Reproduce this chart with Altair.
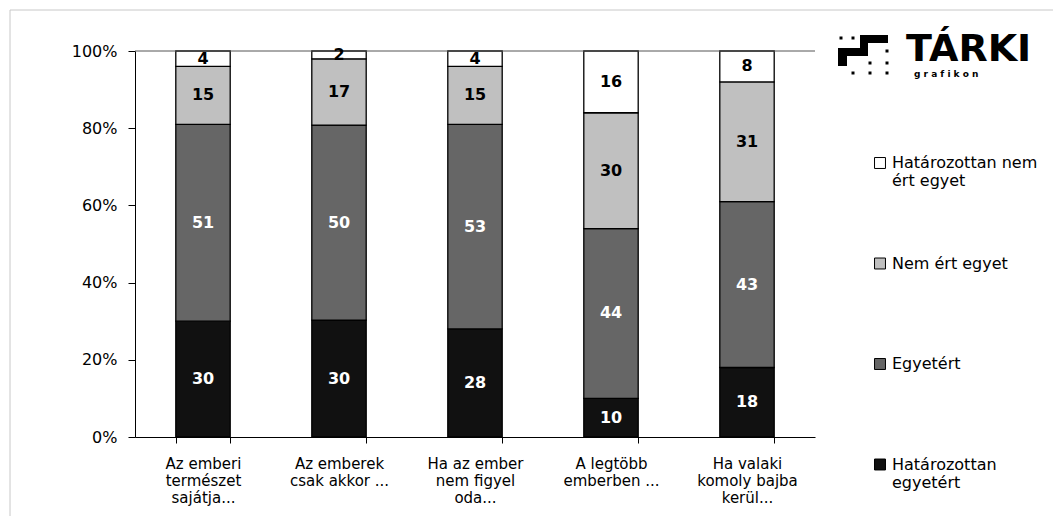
import altair as alt
import pandas as pd

# ---------------- data ----------------
categories = [
    "Az emberi|természet|sajátja...",
    "Az emberek|csak akkor ...",
    "Ha az ember|nem figyel|oda...",
    "A legtöbb|emberben ...",
    "Ha valaki|komoly bajba|kerül...",
]
series = ["Határozottan egyetért", "Egyetért", "Nem ért egyet", "Határozottan nem ért egyet"]
hat_egyetert = [30, 30, 28, 10, 18]
egyetert = [51, 50, 53, 44, 43]
nem_ert_egyet = [15, 17, 15, 30, 31]
hat_nem_ert_egyet = [4, 2, 4, 16, 8]
series_colors = ["#111111", "#666666", "#c0c0c0", "#ffffff"]
y_ticks = [0, 0.2, 0.4, 0.6, 0.8, 1.0]

values = [hat_egyetert, egyetert, nem_ert_egyet, hat_nem_ert_egyet]
rows = []
for si, (s, vals) in enumerate(zip(series, values)):
    for ci, (c, v) in enumerate(zip(categories, vals)):
        rows.append({"cat": c, "series": s, "ord": si, "value": v})
df = pd.DataFrame(rows)

FONT = "DejaVu Sans"

legend_domain = series[::-1]
legend_range = series_colors[::-1]

base = alt.Chart(df).transform_stack(
    stack="value",
    groupby=["cat"],
    as_=["y0", "y1"],
    offset="normalize",
    sort=[alt.SortField("ord", order="ascending")],
).transform_calculate(mid="(datum.y0 + datum.y1) / 2")

x_enc = alt.X(
    "cat:N",
    sort=categories,
    title=None,
    scale=alt.Scale(paddingInner=0.6, paddingOuter=0.3),
    axis=alt.Axis(
        labelExpr="split(datum.label, '|')",
        labelAngle=0,
        labelFont=FONT,
        labelFontSize=15,
        labelLineHeight=17,
        labelColor="#000000",
        labelPadding=13,
        tickBand="extent",
        tickSize=6,
        tickColor="#000000",
        domainColor="#000000",
        labelBaseline="top",
    ),
)

bars = base.mark_bar(stroke="#000000", strokeWidth=1.3).encode(
    x=x_enc,
    y=alt.Y(
        "y0:Q",
        title=None,
        scale=alt.Scale(domain=[0, 1], nice=False),
        axis=alt.Axis(
            values=y_ticks,
            format=".0%",
            grid=False,
            labelFont=FONT,
            labelFontSize=16,
            labelColor="#000000",
            labelPadding=11,
            tickSize=7,
            tickColor="#000000",
            domainColor="#000000",
        ),
    ),
    y2="y1:Q",
    color=alt.Color(
        "series:N",
        scale=alt.Scale(domain=legend_domain, range=legend_range),
        legend=alt.Legend(
            title=None,
            orient="none",
            legendX=737,
            legendY=104,
            symbolType="square",
            symbolSize=120,
            symbolStrokeColor="#000000",
            symbolStrokeWidth=1,
            labelFont=FONT,
            labelFontSize=16,
            labelBaseline="middle",
            labelColor="#000000",
            labelOffset=4,
            rowPadding=66.5,
            padding=0,
            labelLimit=300,
            labelExpr=(
                "datum.label == 'Határozottan nem ért egyet' ? ['Határozottan nem', 'ért egyet'] : "
                "datum.label == 'Határozottan egyetért' ? ['Határozottan', 'egyetért'] : "
                "[datum.label, ' ']"
            ),
        ),
    ),
    order=alt.Order("ord:Q"),
)

text_white = base.transform_filter("datum.ord <= 1").mark_text(
    font=FONT, fontSize=16, fontWeight="bold", color="#ffffff", baseline="middle"
).encode(x=alt.X("cat:N", sort=categories), y="mid:Q", text="value:Q")

text_black = base.transform_filter("datum.ord >= 2").mark_text(
    font=FONT, fontSize=16, fontWeight="bold", color="#000000", baseline="middle"
).encode(x=alt.X("cat:N", sort=categories), y="mid:Q", text="value:Q")

top_rule = alt.Chart(pd.DataFrame({"v": [1.0]})).mark_rule(color="#555555", strokeWidth=1).encode(
    y="v:Q"
)

one = pd.DataFrame({"a": [0]})
frame = alt.Chart(one).mark_rect(fillOpacity=0, stroke="#c8c8c8", strokeWidth=1).encode(
    x=alt.value(-125), x2=alt.value(940), y=alt.value(-41), y2=alt.value(480)
)

# logo
logo_rects = pd.DataFrame({
    "x": [725, 725, 703, 703],
    "x2": [753, 733, 733, 712],
    "y": [-16, -16, -3, -3],
    "y2": [-8, 5, 5, 15],
})
logo_dots = pd.DataFrame({
    "x": [706, 718, 752, 735, 752, 718, 735, 752],
    "y": [-13, -13, 0, 12, 12, 22, 22, 22],
})
icon_rects = alt.Chart(logo_rects).mark_rect(color="#000000").encode(
    x=alt.X("x:Q", scale=None, axis=None),
    x2="x2:Q",
    y=alt.Y("y:Q", scale=None, axis=None),
    y2="y2:Q",
)
icon_dots = alt.Chart(logo_dots).mark_square(color="#000000", size=9, opacity=1).encode(
    x=alt.X("x:Q", scale=None, axis=None),
    y=alt.Y("y:Q", scale=None, axis=None),
)
tarki = alt.Chart(one).mark_text(
    text="TÁRKI", font=FONT, fontSize=38, fontWeight="bold", color="#000000",
    align="left", baseline="alphabetic",
).encode(x=alt.value(771), y=alt.value(10))
grafikon = alt.Chart(one).mark_text(
    text="g r a f i k o n", font=FONT, fontSize=9, fontWeight="bold", color="#000000",
    align="left", baseline="alphabetic",
).encode(x=alt.value(779), y=alt.value(26))

chart = alt.layer(
    frame, bars, top_rule, text_white, text_black, icon_rects, icon_dots, tarki, grafikon
).properties(
    width=680,
    height=386,
    autosize=alt.AutoSizeParams(type="none"),
    padding={"left": 127, "top": 43, "right": 238, "bottom": 79},
    background="#ffffff",
).configure_view(strokeWidth=0)

chart.save("out.html", embed_options={"renderer": "svg", "actions": False})
